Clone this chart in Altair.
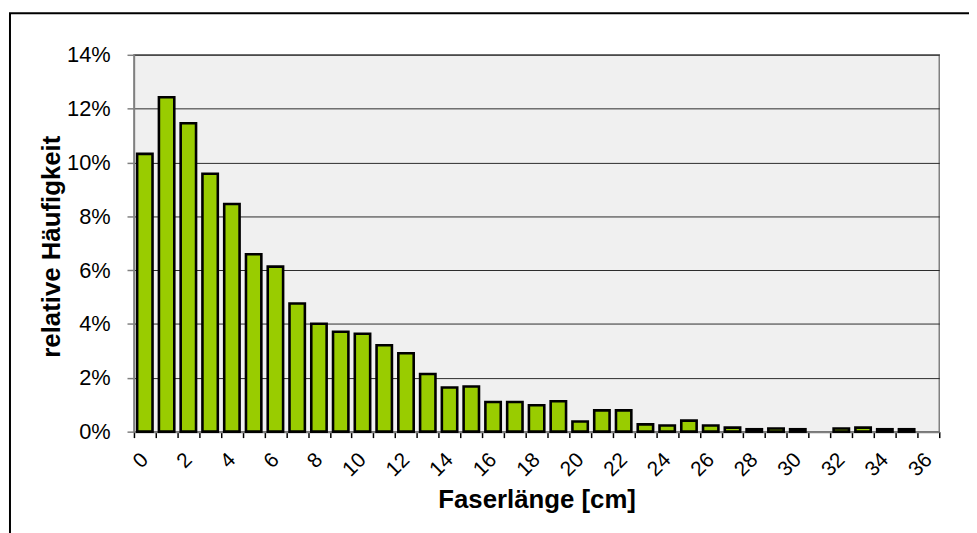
import altair as alt
import pandas as pd

# Faserlänge categories (cm) and relative frequency (%)
categories = list(range(0, 37))
values = [10.32, 12.42, 11.46, 9.58, 8.46, 6.59, 6.13, 4.76, 4.01, 3.71,
          3.64, 3.21, 2.91, 2.14, 1.64, 1.68, 1.10, 1.10, 0.98, 1.13,
          0.38, 0.79, 0.79, 0.27, 0.23, 0.41, 0.23, 0.15, 0.09, 0.12,
          0.09, 0.0, 0.12, 0.15, 0.09, 0.09, 0.0]
y_ticks = [0, 2, 4, 6, 8, 10, 12, 14]

df = pd.DataFrame({"laenge": categories, "wert": values})

FONT = "Liberation Sans"

bars = alt.Chart(df).transform_filter(
    alt.datum.wert > 0
).mark_bar(
    size=15.5, fill="#99CC00", stroke="#000000", strokeWidth=2.6
).encode(
    x=alt.X(
        "laenge:O",
        scale=alt.Scale(domain=categories, paddingInner=0, paddingOuter=0),
        axis=alt.Axis(
            title="Faserlänge [cm]",
            labelExpr="datum.value % 2 == 0 ? datum.label : ''",
            labelAngle=-45,
            labelAlign="right",
            labelBaseline="middle",
            labelFontSize=21,
            labelFont=FONT,
            labelColor="#000000",
            labelPadding=19,
            tickSize=6,
            tickColor="#000000",
            tickWidth=1.5,
            tickBand="extent",
            domainColor="#808080",
            domainWidth=2,
            titleFontSize=26,
            titleFont=FONT,
            titleFontWeight="bold",
            titleColor="#000000",
            titleBaseline="alphabetic",
            titleY=76,
        ),
    ),
    y=alt.Y(
        "wert:Q",
        scale=alt.Scale(domain=[0, 14], nice=False),
        axis=alt.Axis(
            title="relative Häufigkeit",
            values=y_ticks,
            labelExpr="datum.value + '%'",
            labelFontSize=22,
            labelFont=FONT,
            labelColor="#000000",
            labelPadding=17,
            tickSize=7,
            tickColor="#808080",
            tickWidth=1.5,
            domainColor="#808080",
            domainWidth=1.5,
            grid=True,
            gridColor="#2a2a2a",
            gridWidth=1,
            titleFontSize=26,
            titleFont=FONT,
            titleFontWeight="bold",
            titleColor="#000000",
            titleBaseline="middle",
            titleAlign="center",
            titleAngle=-90,
            titleX=-83,
            titleY=193,
        ),
    ),
)

frame = alt.Chart(pd.DataFrame({"f": [0]})).mark_rect(
    fill=None, stroke="#000000", strokeWidth=2
).encode(
    x=alt.value(-125), x2=alt.value(900), y=alt.value(-42), y2=alt.value(600)
)

chart = alt.layer(bars, frame).properties(
    width=812,
    height=380,
    padding={"left": 127, "top": 45, "right": 30, "bottom": 100},
    autosize=alt.AutoSizeParams(type="none"),
    background="#FFFFFF",
).configure_view(
    fill="#F0F0F0", stroke="#808080", strokeWidth=1.5
)

chart.save("out.html", embed_options={"renderer": "svg", "actions": False})
